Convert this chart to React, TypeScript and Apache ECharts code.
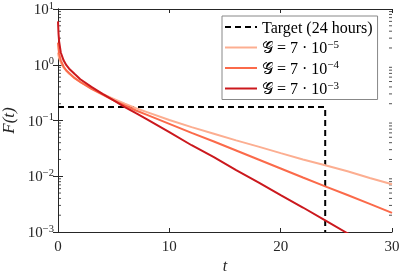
import React, { useEffect, useRef } from "react";
import * as echarts from "echarts";

const tVals = [0, 0.05, 0.1, 0.25, 0.5, 0.75, 1, 1.5, 2, 3, 4, 5, 6, 7, 8, 10, 12, 14, 16, 18, 20, 22, 24, 26, 28, 30];
const fLow = [1.66, 1.45, 1.32, 1.1, 0.89, 0.78, 0.69, 0.575, 0.49, 0.38, 0.3, 0.245, 0.2, 0.166, 0.141, 0.102, 0.076, 0.058, 0.044, 0.034, 0.026, 0.02, 0.0158, 0.0123, 0.0093, 0.0072];
const fMid = [2.5, 1.9, 1.58, 1.2, 0.93, 0.79, 0.71, 0.575, 0.49, 0.37, 0.29, 0.23, 0.186, 0.151, 0.126, 0.087, 0.06, 0.042, 0.029, 0.02, 0.0138, 0.0095, 0.0066, 0.0046, 0.0032, 0.0022];
const fHigh = [6.0, 3.55, 2.63, 1.66, 1.2, 0.98, 0.85, 0.68, 0.55, 0.4, 0.3, 0.23, 0.174, 0.135, 0.105, 0.062, 0.036, 0.022, 0.0129, 0.0078, 0.0046, 0.00275, 0.00162, 0.00095, 0.00057, 0.00034];
const targetT = [0, 24, 24];
const targetF = [0.174, 0.174, 0.001];

const seriesNames = ["Target (24 hours)", "𝒢 = 7 · 10^−5", "𝒢 = 7 · 10^−4", "𝒢 = 7 · 10^−3"];
const seriesColors = ["#000000", "#fcae91", "#fb6a4a", "#cb181d"];
const xTicks = [0, 10, 20, 30];
const yDecades = [-3, -2, -1, 0, 1];

const FONT = "Liberation Serif";
const AX = "#262626";

export default function App() {
  const ref = useRef<HTMLDivElement>(null);
  useEffect(() => {
    if (!ref.current) return;
    const chart = echarts.init(ref.current, null, { renderer: "svg" });
    const zip = (xs: number[], ys: number[]) => xs.map((x, i) => [x, ys[i]]);
    const xMin = xTicks[0];
    const xMax = xTicks[xTicks.length - 1];
    const minorL: number[][] = [];
    const minorR: number[][] = [];
    for (let d = yDecades[0]; d < yDecades[yDecades.length - 1]; d++) {
      for (let m = 2; m <= 9; m++) {
        minorL.push([xMin, m * Math.pow(10, d)]);
        minorR.push([xMax, m * Math.pow(10, d)]);
      }
    }
    const yMin = Math.pow(10, yDecades[0]);
    const yMax = Math.pow(10, yDecades[yDecades.length - 1]);
    const supFmt = (name: string) => {
      const i = name.indexOf("^");
      if (i < 0) return "{n|" + name + "}";
      return "{n|" + name.slice(0, i) + "}{s|" + name.slice(i + 1) + "}";
    };
    const lineSeries = (idx: number, data: number[][], dashed = false) => ({
      name: seriesNames[idx],
      type: "line",
      data,
      showSymbol: false,
      symbol: "none",
      clip: true,
      lineStyle: { color: seriesColors[idx], width: 2, type: dashed ? [6, 4] : "solid" },
      itemStyle: { color: seriesColors[idx] },
      z: 2 + idx,
    });
    const tickSeries = (data: number[][], off: number) => ({
      name: "minor",
      type: "scatter",
      data,
      symbol: "rect",
      symbolSize: [3, 1],
      symbolOffset: [off, 0],
      silent: true,
      clip: false,
      itemStyle: { color: AX },
      z: 1,
    });
    const option: any = {
      animation: false,
      grid: { left: 58, right: 7, top: 9, bottom: 41, containLabel: false, outerBoundsMode: "none" },
      legend: {
        data: seriesNames,
        orient: "vertical",
        left: 222,
        top: 16,
        padding: [3, 5, 3, 2],
        itemGap: 3,
        itemWidth: 32,
        itemHeight: 14,
        backgroundColor: "#ffffff",
        borderColor: "#888888",
        borderWidth: 1,
        borderRadius: 0,
        formatter: supFmt,
        itemStyle: { opacity: 0, borderWidth: 0 },
        textStyle: {
          fontFamily: FONT,
          color: "#000",
          rich: {
            n: { fontFamily: FONT, fontSize: 16, color: "#000", lineHeight: 17 },
            s: { fontFamily: FONT, fontSize: 11, color: "#000", padding: [0, 0, 8, 0] },
          },
        },
      },
      xAxis: [
        {
          type: "value",
          min: xMin,
          max: xMax,
          interval: xTicks[1] - xTicks[0],
          name: "t",
          nameLocation: "middle",
          nameGap: 21,
          nameTextStyle: { fontFamily: FONT, fontStyle: "italic", fontSize: 16, color: AX, lineHeight: 16 },
          axisLine: { show: true, lineStyle: { color: AX, width: 1 } },
          axisTick: { show: true, inside: true, length: 4, lineStyle: { color: AX } },
          axisLabel: { fontFamily: FONT, fontSize: 15, color: AX, margin: 6 },
          splitLine: { show: false },
        },
        {
          type: "value",
          position: "top",
          min: xMin,
          max: xMax,
          interval: xTicks[1] - xTicks[0],
          axisLine: { show: true, lineStyle: { color: AX, width: 1 } },
          axisTick: { show: true, inside: true, length: 4, lineStyle: { color: AX } },
          axisLabel: { show: false },
          splitLine: { show: false },
        },
      ],
      yAxis: [
        {
          type: "log",
          logBase: 10,
          min: yMin,
          max: yMax,
          name: "F(t)",
          nameLocation: "middle",
          nameGap: 38,
          nameRotate: 90,
          nameTextStyle: { fontFamily: FONT, fontStyle: "italic", fontSize: 17, color: AX },
          axisLine: { show: true, lineStyle: { color: AX, width: 1 } },
          axisTick: { show: true, inside: true, length: 5, lineStyle: { color: AX } },
          axisLabel: {
            margin: 4,
            formatter: (v: number) => {
              const e = Math.round(Math.log10(v));
              return "{b|10}{s|" + (e < 0 ? "−" + -e : String(e)) + "}";
            },
            rich: {
              b: { fontFamily: FONT, fontSize: 15, color: AX },
              s: { fontFamily: FONT, fontSize: 10.5, color: AX, padding: [0, 0, 8, 0] },
            },
          },
          splitLine: { show: false },
        },
        {
          type: "log",
          logBase: 10,
          min: yMin,
          max: yMax,
          position: "right",
          axisLine: { show: true, lineStyle: { color: AX, width: 1 } },
          axisTick: { show: true, inside: true, length: 5, lineStyle: { color: AX } },
          axisLabel: { show: false },
          splitLine: { show: false },
        },
      ],
      series: [
        lineSeries(0, zip(targetT, targetF), true),
        lineSeries(1, zip(tVals, fLow)),
        lineSeries(2, zip(tVals, fMid)),
        lineSeries(3, zip(tVals, fHigh)),
        tickSeries(minorL, 1.5),
        tickSeries(minorR, -1.5),
      ],
    };
    chart.setOption(option);
    return () => chart.dispose();
  }, []);
  return <div ref={ref} style={{ position: "fixed", left: 0, top: 0, width: 399, height: 273 }} />;
}
